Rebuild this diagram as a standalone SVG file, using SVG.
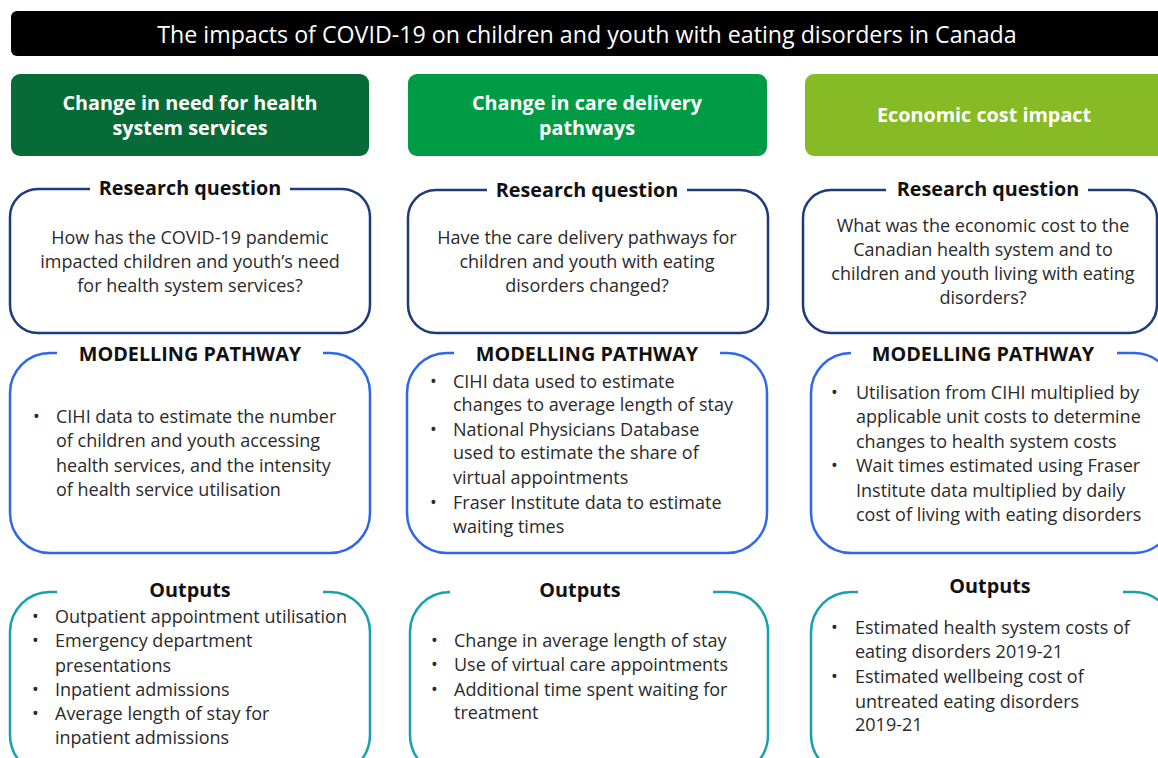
<svg xmlns="http://www.w3.org/2000/svg" width="1158" height="758" viewBox="0 0 1158 758">
  <style>
    .title { font-family: "Open Sans", "Liberation Sans", sans-serif; font-size: 23.2px; fill: #ffffff; text-anchor: middle; }
    .head { font-family: "Open Sans", "Liberation Sans", sans-serif; font-size: 19.8px; font-weight: bold; fill: #ffffff; text-anchor: middle; }
    .label { font-family: "Open Sans", "Liberation Sans", sans-serif; font-size: 19.8px; font-weight: bold; fill: #111111; text-anchor: middle; }
    .body { font-family: "Open Sans", "Liberation Sans", sans-serif; font-size: 18px; fill: #2a2a2a; }
    .center { text-anchor: middle; }
    .rq { fill: none; stroke: #1d3a7c; stroke-width: 2.5; }
    .mp { fill: none; stroke: #2f67ec; stroke-width: 2.5; }
    .out { fill: none; stroke: #18a0b0; stroke-width: 2.5; }
  </style>

  <rect width="1158" height="758" fill="#ffffff"/>

  <!-- Title banner -->
  <g id="title">
    <rect x="11" y="11" width="1160" height="45" rx="6" fill="#000000"/>
    <text class="title" x="587" y="43">The impacts of COVID-19 on children and youth with eating disorders in Canada</text>
  </g>

  <!-- Column headers -->
  <g id="head-need">
    <rect x="11" y="74" width="358" height="82" rx="9" fill="#076b37"/>
    <text class="head" x="190" y="110">Change in need for health</text>
    <text class="head" x="190" y="135">system services</text>
  </g>
  <g id="head-care">
    <rect x="408" y="74" width="359" height="82" rx="9" fill="#009b45"/>
    <text class="head" x="587" y="110">Change in care delivery</text>
    <text class="head" x="587" y="135">pathways</text>
  </g>
  <g id="head-cost">
    <rect x="805" y="74" width="365" height="82" rx="9" fill="#86bb26"/>
    <text class="head" x="984" y="122">Economic cost impact</text>
  </g>

  <!-- Research questions -->
  <g id="rq-need">
    <path class="rq" d="M290,189 H342 A28,28 0 0 1 370,217 V305 A28,28 0 0 1 342,333 H38 A28,28 0 0 1 10,305 V217 A28,28 0 0 1 38,189 H90"/>
    <text class="label" x="190" y="195">Research question</text>
    <text class="body center" x="190" y="244">How has the COVID-19 pandemic</text>
    <text class="body center" x="190" y="268">impacted children and youth’s need</text>
    <text class="body center" x="190" y="292">for health system services?</text>
  </g>
  <g id="rq-care">
    <path class="rq" d="M687,190 H740 A28,28 0 0 1 768,218 V305 A28,28 0 0 1 740,333 H436 A28,28 0 0 1 408,305 V218 A28,28 0 0 1 436,190 H487"/>
    <text class="label" x="587" y="197">Research question</text>
    <text class="body center" x="587" y="244">Have the care delivery pathways for</text>
    <text class="body center" x="587" y="268">children and youth with eating</text>
    <text class="body center" x="587" y="292">disorders changed?</text>
  </g>
  <g id="rq-cost">
    <path class="rq" d="M1088,190 H1129 A28,28 0 0 1 1157,218 V305 A28,28 0 0 1 1129,333 H831 A28,28 0 0 1 803,305 V218 A28,28 0 0 1 831,190 H886"/>
    <text class="label" x="988" y="196">Research question</text>
    <text class="body center" x="983" y="232">What was the economic cost to the</text>
    <text class="body center" x="983" y="256">Canadian health system and to</text>
    <text class="body center" x="983" y="280">children and youth living with eating</text>
    <text class="body center" x="983" y="304">disorders?</text>
  </g>

  <!-- Modelling pathways -->
  <g id="mp-need">
    <path class="mp" d="M323,353 H330 A40,40 0 0 1 370,393 V513 A40,40 0 0 1 330,553 H50 A40,40 0 0 1 10,513 V393 A40,40 0 0 1 50,353 H57"/>
    <text class="label" x="190" y="361">MODELLING PATHWAY</text>
    <text class="body" x="33" y="423">•</text>
    <text class="body" x="56" y="423">CIHI data to estimate the number</text>
    <text class="body" x="56" y="447">of children and youth accessing</text>
    <text class="body" x="56" y="472">health services, and the intensity</text>
    <text class="body" x="56" y="496">of health service utilisation</text>
  </g>
  <g id="mp-care">
    <path class="mp" d="M720,353 H727 A40,40 0 0 1 767,393 V513 A40,40 0 0 1 727,553 H447 A40,40 0 0 1 407,513 V393 A40,40 0 0 1 447,353 H454"/>
    <text class="label" x="587" y="361">MODELLING PATHWAY</text>
    <text class="body" x="430" y="388">•</text>
    <text class="body" x="453" y="388">CIHI data used to estimate</text>
    <text class="body" x="453" y="411">changes to average length of stay</text>
    <text class="body" x="430" y="436">•</text>
    <text class="body" x="453" y="436">National Physicians Database</text>
    <text class="body" x="453" y="459">used to estimate the share of</text>
    <text class="body" x="453" y="484">virtual appointments</text>
    <text class="body" x="430" y="509">•</text>
    <text class="body" x="453" y="509">Fraser Institute data to estimate</text>
    <text class="body" x="453" y="533">waiting times</text>
  </g>
  <g id="mp-cost">
    <path class="mp" d="M1117,353 H1134 A40,40 0 0 1 1174,393 V513 A40,40 0 0 1 1134,553 H851 A40,40 0 0 1 811,513 V393 A40,40 0 0 1 851,353 H850"/>
    <text class="label" x="983" y="361">MODELLING PATHWAY</text>
    <text class="body" x="831" y="399">•</text>
    <text class="body" x="856" y="399">Utilisation from CIHI multiplied by</text>
    <text class="body" x="856" y="423">applicable unit costs to determine</text>
    <text class="body" x="856" y="448">changes to health system costs</text>
    <text class="body" x="831" y="472">•</text>
    <text class="body" x="856" y="472">Wait times estimated using Fraser</text>
    <text class="body" x="856" y="497">Institute data multiplied by daily</text>
    <text class="body" x="856" y="521">cost of living with eating disorders</text>
  </g>

  <!-- Outputs -->
  <g id="out-need">
    <path class="out" d="M323,592 H330 A40,40 0 0 1 370,632 V735 A40,40 0 0 1 330,775 H50 A40,40 0 0 1 10,735 V632 A40,40 0 0 1 50,592 H57"/>
    <text class="label" x="190" y="597">Outputs</text>
    <text class="body" x="32" y="623">•</text>
    <text class="body" x="55" y="623">Outpatient appointment utilisation</text>
    <text class="body" x="32" y="647">•</text>
    <text class="body" x="55" y="647">Emergency department</text>
    <text class="body" x="55" y="672">presentations</text>
    <text class="body" x="32" y="696">•</text>
    <text class="body" x="55" y="696">Inpatient admissions</text>
    <text class="body" x="32" y="720">•</text>
    <text class="body" x="55" y="720">Average length of stay for</text>
    <text class="body" x="55" y="744">inpatient admissions</text>
  </g>
  <g id="out-care">
    <path class="out" d="M713,592 H728 A40,40 0 0 1 768,632 V735 A40,40 0 0 1 728,775 H450 A40,40 0 0 1 410,735 V632 A40,40 0 0 1 450,592 H447"/>
    <text class="label" x="580" y="597">Outputs</text>
    <text class="body" x="431" y="647">•</text>
    <text class="body" x="454" y="647">Change in average length of stay</text>
    <text class="body" x="431" y="671">•</text>
    <text class="body" x="454" y="671">Use of virtual care appointments</text>
    <text class="body" x="431" y="696">•</text>
    <text class="body" x="454" y="696">Additional time spent waiting for</text>
    <text class="body" x="454" y="719">treatment</text>
  </g>
  <g id="out-cost">
    <path class="out" d="M1123,592 H1134 A40,40 0 0 1 1174,632 V735 A40,40 0 0 1 1134,775 H851 A40,40 0 0 1 811,735 V632 A40,40 0 0 1 851,592 H858"/>
    <text class="label" x="990" y="593">Outputs</text>
    <text class="body" x="831" y="634">•</text>
    <text class="body" x="855" y="634">Estimated health system costs of</text>
    <text class="body" x="855" y="658">eating disorders 2019-21</text>
    <text class="body" x="831" y="683">•</text>
    <text class="body" x="855" y="683">Estimated wellbeing cost of</text>
    <text class="body" x="855" y="708">untreated eating disorders</text>
    <text class="body" x="855" y="731">2019-21</text>
  </g>

  <!-- No connectors are drawn between the panels -->
  <g id="connectors"/>
</svg>
